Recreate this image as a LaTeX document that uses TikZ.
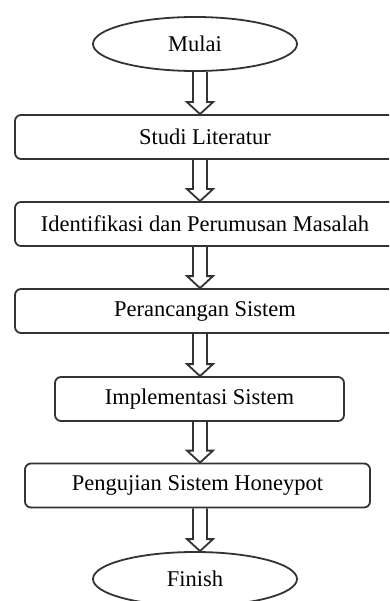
\documentclass[tikz,border=0pt]{standalone}
\usepackage{fontspec}
\setmainfont{Liberation Serif}
\usetikzlibrary{shapes.geometric,calc}
\begin{document}
\begin{tikzpicture}[x=1pt,y=-1pt,
  every node/.style={font=\fontsize{22.5}{26}\selectfont, text=black},
  stepbox/.style={draw=black!80, line width=1.8pt, rounded corners=6pt, minimum height=44pt, inner sep=0pt},
  terminal/.style={draw=black!80, line width=1.8pt, ellipse, minimum width=204pt, minimum height=54pt, inner sep=0pt},
  hollow/.style={draw=black!80, line width=1.8pt, line join=miter}
]
\useasboundingbox (0,0) rectangle (389,601);
\clip (0,0) rectangle (389,601);
\fill[white] (0,0) rectangle (389,601);
\node[terminal] (mulai) at (195,44) {Mulai};
\node[stepbox, minimum width=380pt] (studi) at (205,137) {Studi Literatur};
\node[stepbox, minimum width=380pt] (ident) at (205,224) {Identifikasi dan Perumusan Masalah};
\node[stepbox, minimum width=380pt] (peranc) at (205,311) {Perancangan Sistem};
\node[stepbox, minimum width=289pt] (impl) at (199.5,399) {Implementasi Sistem};
\node[stepbox, minimum width=345pt] (uji) at (197.5,485.5) {Pengujian Sistem Honeypot};
\node[terminal] (finish) at (195,579) {Finish};
\foreach \a/\b in {mulai/studi, studi/ident, ident/peranc, peranc/impl, impl/uji, uji/finish}{
  \draw[hollow] let \p1=(\a.south), \p2=(\b.north) in
    (193pt,\y1) -- (193pt,\y2+12pt) -- (187pt,\y2+12pt) -- (200pt,\y2) -- (213pt,\y2+12pt) -- (207pt,\y2+12pt) -- (207pt,\y1);
}
\end{tikzpicture}
\end{document}
